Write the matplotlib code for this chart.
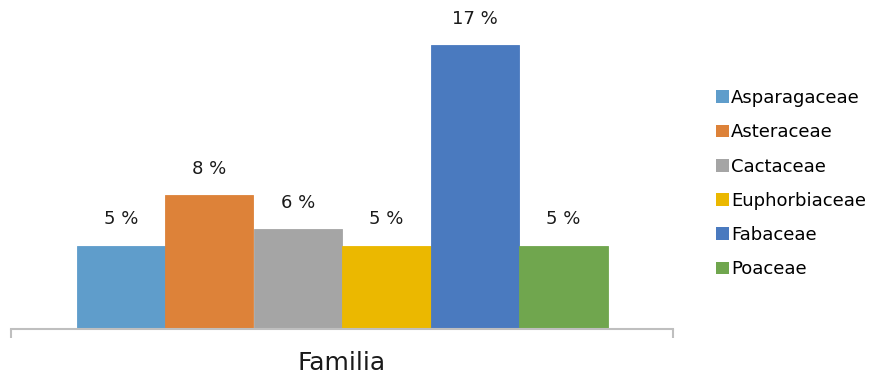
import matplotlib
matplotlib.use("Agg")
import matplotlib.pyplot as plt
from matplotlib.patches import Patch

category = "Familia"
series = ["Asparagaceae", "Asteraceae", "Cactaceae", "Euphorbiaceae", "Fabaceae", "Poaceae"]
values = [5, 8, 6, 5, 17, 5]
labels = ["5 %", "8 %", "6 %", "5 %", "17 %", "5 %"]
colors = ["#5F9DCB", "#DD8239", "#A5A5A5", "#EBB800", "#4A7ABF", "#70A64E"]

W, H = 872, 377
fig = plt.figure(figsize=(W / 100, H / 100), dpi=100)
plt.rcParams['font.family'] = ['DejaVu Sans']

ax_left, ax_right = 11, 673
ax_bottom = 329
ax = fig.add_axes([ax_left / W, (H - ax_bottom) / H, (ax_right - ax_left) / W, ax_bottom / H])

n = len(series)
total = 531 / 662
bw = total / n
start = -total / 2
for i, (s, v, lab, c) in enumerate(zip(series, values, labels, colors)):
    x = start + bw * (i + 0.5)
    ax.bar(x, v, width=bw, color=c, label=s, linewidth=0.6, edgecolor=c)
    ax.annotate(lab, (x, v), xytext=(0, 21), textcoords='offset pixels',
                ha='center', va='baseline', fontsize=13, color='#1a1a1a')

ax.set_xlim(-0.5, 0.5)
ax.set_ylim(0, 329 / 16.7)
for sp in ['top', 'left', 'right']:
    ax.spines[sp].set_visible(False)
ax.spines['bottom'].set_color('#BFBFBF')
ax.spines['bottom'].set_linewidth(1.5)
ax.set_yticks([])
ax.set_xticks([-0.5, 0.5])
ax.set_xticklabels(['', ''])
ax.tick_params(axis='x', which='major', length=6.5, width=1.5, color='#BFBFBF', direction='out')
ax.set_xticks([0], minor=True)
ax.set_xticklabels([category], minor=True, fontsize=18, color='#1a1a1a')
ax.tick_params(axis='x', which='minor', length=0, pad=16)

handles = [Patch(facecolor=c, edgecolor='none') for c in colors]
fig.legend(handles, series, loc='upper left', bbox_to_anchor=(716 / W, 1 - 89 / H),
           frameon=False, fontsize=13, handlelength=0.72, handleheight=0.72,
           handletextpad=0.12, labelspacing=0.90, borderpad=0, borderaxespad=0)

fig.savefig("out.png", dpi=100)
